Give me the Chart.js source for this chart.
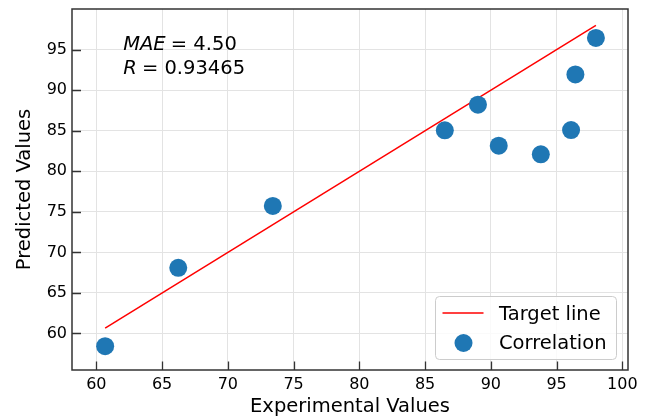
<!DOCTYPE html>
<html>
<head>
<meta charset="utf-8">
<title>Predicted vs Experimental</title>
<script src="https://cdn.jsdelivr.net/npm/chart.js@4/dist/chart.umd.min.js"></script>
<style>
  html, body { margin: 0; padding: 0; background: #fff; }
  #wrap { width: 650px; height: 419px; position: relative; }
</style>
</head>
<body>
<div id="wrap"><canvas id="chart"></canvas></div>
<script>
// values
const experimental = [60.67, 66.23, 73.42, 86.5, 89.02, 90.6, 93.8, 96.1, 96.43, 97.99];
const predicted = [58.43, 68.09, 75.73, 85.04, 88.2, 83.15, 82.08, 85.08, 91.93, 96.43];
const targetLine = [60.67, 97.99];
const xTicks = [60, 65, 70, 75, 80, 85, 90, 95, 100];
const yTicks = [60, 65, 70, 75, 80, 85, 90, 95];
const maeText = ['MAE', ' = 4.50'];
const rText = ['R', ' = 0.93465'];

const FONT = "'DejaVu Sans', sans-serif";
const spineColor = '#333333';

// spines + inward tick marks (matplotlib style)
const framePlugin = {
    id: 'frame',
    afterDatasetsDraw(chart) {
        const { ctx, chartArea: a, scales } = chart;
        ctx.save();
        ctx.strokeStyle = spineColor;
        ctx.lineWidth = 1.5;
        ctx.strokeRect(a.left, a.top, a.right - a.left, a.bottom - a.top);
        ctx.lineWidth = 1.3;
        ctx.beginPath();
        xTicks.forEach(v => {
            const px = Math.round(scales.x.getPixelForValue(v)) + 0.5;
            ctx.moveTo(px, a.bottom);
            ctx.lineTo(px, a.bottom - 8.5);
        });
        yTicks.forEach(v => {
            const py = Math.round(scales.y.getPixelForValue(v)) + 0.5;
            ctx.moveTo(a.left, py);
            ctx.lineTo(a.left + 9, py);
        });
        ctx.stroke();
        ctx.restore();
    }
};

// MAE / R text in the upper left corner
const statsPlugin = {
    id: 'stats',
    afterDatasetsDraw(chart) {
        const { ctx, chartArea: a } = chart;
        const x = a.left + (a.right - a.left) * 0.092;
        const y0 = a.top + (a.bottom - a.top) * 0.1136;
        ctx.save();
        ctx.fillStyle = '#000';
        ctx.textBaseline = 'alphabetic';
        [maeText, rText].forEach((parts, i) => {
            const y = y0 + i * 23.5;
            ctx.font = `italic 19.5px ${FONT}`;
            ctx.fillText(parts[0], x, y);
            const w = ctx.measureText(parts[0]).width;
            ctx.font = `19.5px ${FONT}`;
            ctx.fillText(parts[1], x + w - 1, y);
        });
        ctx.restore();
    }
};

// legend box in lower right corner
const legendPlugin = {
    id: 'boxLegend',
    afterDraw(chart) {
        const { ctx, chartArea: a } = chart;
        const ds = chart.data.datasets;
        const boxW = 181, boxH = 63;
        const bx = a.right - 11.5 - boxW;
        const by = a.bottom - 10.5 - boxH;
        ctx.save();
        ctx.fillStyle = 'rgba(255,255,255,0.8)';
        ctx.strokeStyle = '#cccccc';
        ctx.lineWidth = 1;
        ctx.beginPath();
        ctx.roundRect(bx, by, boxW, boxH, 4);
        ctx.fill();
        ctx.stroke();

        ctx.font = `19.5px ${FONT}`;
        ctx.fillStyle = '#000';
        ctx.textBaseline = 'alphabetic';
        // line entry
        ctx.strokeStyle = ds[0].borderColor;
        ctx.lineWidth = 1.5;
        ctx.beginPath();
        ctx.moveTo(bx + 7, by + 16.5);
        ctx.lineTo(bx + 48, by + 16.5);
        ctx.stroke();
        ctx.fillText(ds[0].label, bx + 63.5, by + 23.5);
        // marker entry
        ctx.fillStyle = ds[1].backgroundColor;
        ctx.beginPath();
        ctx.arc(bx + 28, by + 46.5, 9, 0, Math.PI * 2);
        ctx.fill();
        ctx.fillStyle = '#000';
        ctx.fillText(ds[1].label, bx + 63.5, by + 52.5);
        ctx.restore();
    }
};

const ctx = document.getElementById('chart').getContext('2d');
new Chart(ctx, {
    type: 'scatter',
    data: {
        datasets: [
            {
                type: 'line',
                label: 'Target line',
                data: targetLine.map(v => ({ x: v, y: v })),
                borderColor: '#ff0000',
                borderWidth: 1.5,
                pointRadius: 0,
                fill: false,
                order: 2
            },
            {
                type: 'scatter',
                label: 'Correlation',
                data: experimental.map((x, i) => ({ x: x, y: predicted[i] })),
                backgroundColor: '#1f77b4',
                borderWidth: 0,
                pointRadius: 9,
                pointHoverRadius: 9,
                order: 1
            }
        ]
    },
    options: {
        responsive: true,
        maintainAspectRatio: false,
        animation: false,
        layout: { padding: { left: 0, right: 22, top: 9, bottom: 0 } },
        plugins: {
            legend: { display: false },
            tooltip: { enabled: false }
        },
        scales: {
            x: {
                type: 'linear',
                min: 58.15,
                max: 100.43,
                afterBuildTicks: s => { s.ticks = xTicks.map(v => ({ value: v })); },
                afterFit: s => { s.height = 49; s.paddingLeft = 0; s.paddingRight = 0; },
                grid: { color: '#e3e3e3', lineWidth: 1, drawTicks: false },
                border: { display: false },
                ticks: { font: { family: FONT, size: 16 }, color: '#000', padding: 5, maxRotation: 0, autoSkip: false },
                title: { display: true, text: 'Experimental Values', color: '#000', font: { family: FONT, size: 19.5 }, padding: { top: 0, bottom: 0 } }
            },
            y: {
                type: 'linear',
                min: 55.5,
                max: 100,
                afterBuildTicks: s => { s.ticks = yTicks.map(v => ({ value: v })); },
                afterFit: s => { s.width = 72; s.paddingTop = 0; s.paddingBottom = 0; },
                grid: { color: '#e3e3e3', lineWidth: 1, drawTicks: false },
                border: { display: false },
                ticks: { font: { family: FONT, size: 16 }, color: '#000', padding: 5, autoSkip: false },
                title: { display: true, text: 'Predicted Values', color: '#000', font: { family: FONT, size: 19.5 }, padding: { top: 13, bottom: 0 } }
            }
        }
    },
    plugins: [framePlugin, statsPlugin, legendPlugin]
});
</script>
</body>
</html>
